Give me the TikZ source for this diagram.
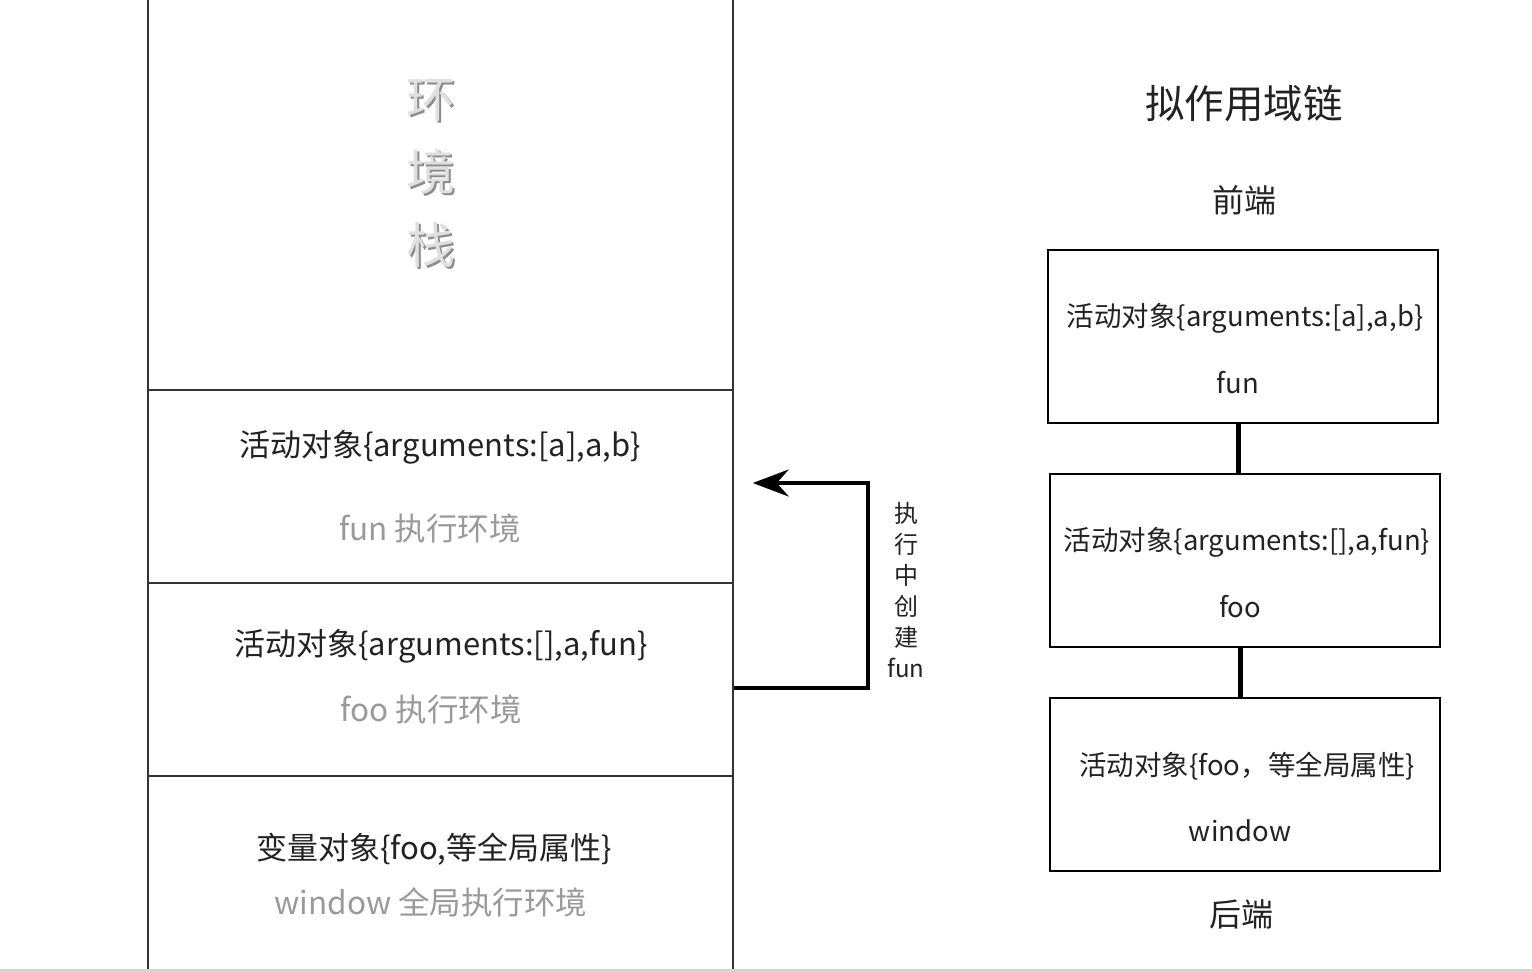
\documentclass[tikz,border=0pt]{standalone}
\usepackage{fontspec}
\setmainfont{Noto Sans CJK SC}
\usetikzlibrary{arrows.meta,positioning,calc}

\definecolor{labelgray}{HTML}{999999}
\definecolor{inkgray}{HTML}{222222}
\definecolor{rulegray}{HTML}{D4D4D4}

\tikzset{
  stackcell/.style={draw=black!80, line width=1.5pt, minimum width=585pt, inner sep=0pt},
  chainbox/.style={draw=black, line width=1.8pt, minimum width=390pt, minimum height=173pt, inner sep=0pt},
  objtext/.style={text=inkgray, font=\fontsize{31}{36}\selectfont},
  envtext/.style={text=labelgray, font=\fontsize{31.5}{36}\selectfont},
  chaintext/.style={text=inkgray, font=\fontsize{27.5}{32}\selectfont},
  endtext/.style={text=inkgray, font=\fontsize{32}{38}\selectfont},
  sidetext/.style={text=inkgray, align=center, font=\fontsize{24}{31}\selectfont},
  stacktitle/.style={align=center, font=\fontsize{49}{73}\selectfont},
  link/.style={line width=5pt},
  flow/.style={line width=4.3pt, -{Stealth[length=36pt,width=27pt,inset=12pt]}},
}

\begin{document}
\begin{tikzpicture}[x=1pt,y=-1pt]
  \useasboundingbox (0,0) rectangle (1532,972);
  % environment stack
  \node[stackcell, minimum height=400pt] (stacktop) at (440.5,190) {};
  \node[stackcell, minimum height=193pt] (funenv) at (440.5,486.5) {};
  \node[stackcell, minimum height=193pt] (fooenv) at (440.5,679.5) {};
  \node[stackcell, minimum height=210pt] (globalenv) at (440.5,881) {};
  \node[stacktitle, text=black!45, xshift=2pt, yshift=-2pt] (titleshade) at (431,173) {环\\境\\栈};
  \node[stacktitle, text=black!12] (stackname) at (431,173) {环\\境\\栈};
  \node[objtext] (funobj) at (440,447) {活动对象\{arguments:[a],a,b\}};
  \node[envtext] (funlabel) at (430,528) {fun 执行环境};
  \node[objtext] (fooobj) at (441,646) {活动对象\{arguments:[],a,fun\}};
  \node[envtext] (foolabel) at (431,709) {foo 执行环境};
  \node[objtext] (globalobj) at (434,849) {变量对象\{foo,等全局属性\}};
  \node[envtext] (globallabel) at (431,902) {window 全局执行环境};
  % fun is created while foo runs
  \draw[flow] ([yshift=-8.5pt]fooenv.east) -| ([xshift=134pt,yshift=3.5pt]funenv.east)
       -- ([xshift=19pt,yshift=3.5pt]funenv.east);
  \node[sidetext] (createnote) at (906,590) {执\\行\\中\\创\\建\\fun};
  % scope chain
  \node[text=inkgray, font=\fontsize{39.5}{46}\selectfont] (chaintitle) at (1244,104) {拟作用域链};
  \node[endtext] (front) at (1244,200) {前端};
  \node[chainbox] (funscope) at (1243,336.5) {};
  \node[chainbox] (fooscope) at (1245,560.5) {};
  \node[chainbox] (globalscope) at (1245,784.5) {};
  \node[endtext] (back) at (1241,914) {后端};
  \node[chaintext] (funscopeobj) at (1245,318) {活动对象\{arguments:[a],a,b\}};
  \node[chaintext] (funscopename) at (1238,383) {fun};
  \node[chaintext] (fooscopeobj) at (1247,542) {活动对象\{arguments:[],a,fun\}};
  \node[chaintext] (fooscopename) at (1240,607) {foo};
  \node[chaintext] (globalscopeobj) at (1247,766) {活动对象\{foo，等全局属性\}};
  \node[chaintext] (globalscopename) at (1240,831) {window};
  \draw[link] ([xshift=-5pt]funscope.south) -- ([xshift=-5pt]funscope.south |- fooscope.north);
  \draw[link] ([xshift=-5pt]fooscope.south) -- ([xshift=-5pt]fooscope.south |- globalscope.north);
  % page edge
  \draw[rulegray, line width=3pt] (0,970.5) -- (1532,970.5);
\end{tikzpicture}
\end{document}
